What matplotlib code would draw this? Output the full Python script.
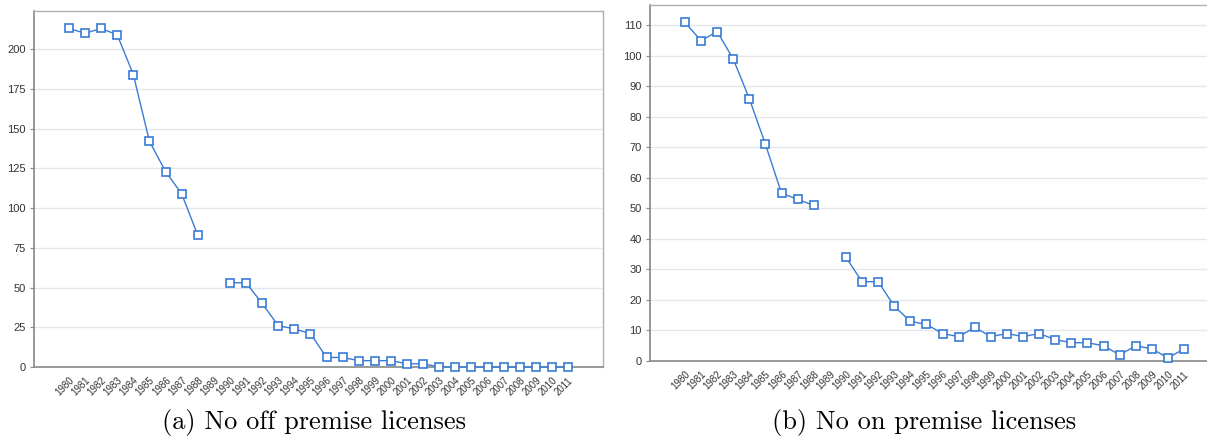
import numpy as np
import matplotlib.pyplot as plt

years = list(range(1980, 2012))
off_premise = [213, 210, 213, 209, 184, 142, 123, 109, 83, np.nan,
               53, 53, 40, 26, 24, 21, 6, 6, 4, 4, 4, 2, 2,
               0, 0, 0, 0, 0, 0, 0, 0, 0]
on_premise = [111, 105, 108, 99, 86, 71, 55, 53, 51, np.nan,
              34, 26, 26, 18, 13, 12, 9, 8, 11, 8, 9, 8, 9,
              7, 6, 6, 5, 2, 5, 4, 1, 4]
captions = ['(a) No off premise licenses', '(b) No on premise licenses']

W, H = 1207, 437
fig = plt.figure(figsize=(W / 100, H / 100), dpi=100)

def box(l, t, r, b):
    return [l / W, 1 - b / H, (r - l) / W, (b - t) / H]

line_col = '#3a7bd5'

def panel(ax, vals, ymax, step):
    ax.plot(years, vals, color=line_col, lw=1.0, marker='s', ms=5.5,
            mfc='white', mec=line_col, mew=1.2, zorder=3, clip_on=False)
    ax.set_xlim(1980 - 2.17, 2011 + 2.17)
    ax.set_ylim(0, ymax)
    ax.set_yticks(np.arange(0, ymax, step))
    ax.set_xticks(years)
    ax.set_xticklabels([str(y) for y in years], rotation=45, ha='right',
                       va='top', rotation_mode='anchor', fontsize=7,
                       family='Liberation Sans', color='#333333')
    for lab in ax.get_yticklabels():
        lab.set_fontsize(8)
        lab.set_family('Liberation Sans')
        lab.set_color('#333333')
    ax.tick_params(axis='x', length=0, pad=6)
    ax.tick_params(axis='y', length=3, width=0.8, color='#888888', pad=3)
    ax.yaxis.grid(True, color='#e4e6ee', lw=1.0)
    ax.set_axisbelow(True)
    for s in ['top', 'right']:
        ax.spines[s].set_color('#b0b0b0')
        ax.spines[s].set_linewidth(1.0)
    for s in ['left', 'bottom']:
        ax.spines[s].set_color('#888888')
        ax.spines[s].set_linewidth(1.2)

ax1 = fig.add_axes(box(34, 11, 603, 367))
panel(ax1, off_premise, 224, 25)
ax2 = fig.add_axes(box(650, 5, 1219, 361))
panel(ax2, on_premise, 116.7, 10)

fig.text(314 / W, 1 - 422 / H, captions[0], family='cmr10', fontsize=19,
         ha='center', va='center')
fig.text(924 / W, 1 - 422 / H, captions[1], family='cmr10', fontsize=19,
         ha='center', va='center')

fig.savefig('out.png', dpi=100)
